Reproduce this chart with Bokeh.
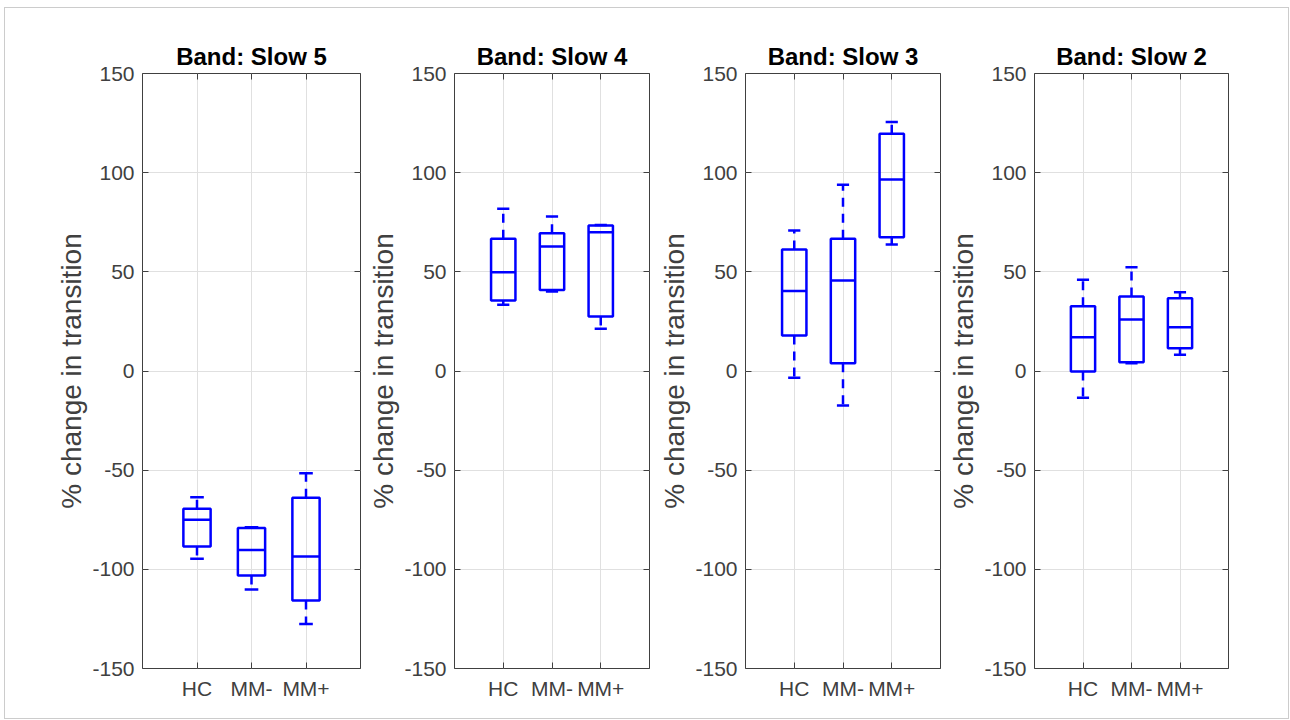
import numpy as np
from bokeh.plotting import figure
from bokeh.models import Range1d, FixedTicker, LinearAxis, ColumnDataSource
from bokeh.layouts import row
from bokeh.embed import file_html
from bokeh.resources import INLINE

# ---------------- data ----------------
groups = ["HC", "MM-", "MM+"]
group_pos = [1, 2, 3]
band_titles = ["Band: Slow 5", "Band: Slow 4", "Band: Slow 3", "Band: Slow 2"]
y_ticks = [-150, -100, -50, 0, 50, 100, 150]
y_tick_labels = ["-150", "-100", "-50", "0", "50", "100", "150"]
y_label = "% change in transition"

# lower whisker, first quartile, median, third quartile, upper whisker
slow5_low = [-94.7, -110.2, -127.5]
slow5_q1 = [-88.5, -103.1, -115.7]
slow5_med = [-75.0, -90.2, -93.5]
slow5_q3 = [-69.5, -79.1, -63.9]
slow5_high = [-63.6, -78.8, -51.5]

slow4_low = [33.4, 40.1, 21.3]
slow4_q1 = [35.6, 40.9, 27.5]
slow4_med = [49.8, 62.8, 70.0]
slow4_q3 = [66.7, 69.5, 73.4]
slow4_high = [81.8, 77.9, 73.6]

slow3_low = [-3.4, -17.4, 63.8]
slow3_q1 = [17.9, 3.9, 67.5]
slow3_med = [40.3, 45.6, 96.6]
slow3_q3 = [61.3, 66.7, 119.6]
slow3_high = [70.9, 93.9, 125.5]

slow2_low = [-13.5, 3.9, 8.2]
slow2_q1 = [-0.3, 4.4, 11.5]
slow2_med = [17.0, 26.0, 22.1]
slow2_q3 = [32.7, 37.6, 36.7]
slow2_high = [46.0, 52.3, 39.7]

panels = [
    (slow5_low, slow5_q1, slow5_med, slow5_q3, slow5_high),
    (slow4_low, slow4_q1, slow4_med, slow4_q3, slow4_high),
    (slow3_low, slow3_q1, slow3_med, slow3_q3, slow3_high),
    (slow2_low, slow2_q1, slow2_med, slow2_q3, slow2_high),
]

# ---------------- style ----------------
FONT = "Liberation Sans"
BLUE = "#0000FF"
DARK = "#404040"
GRID = "#e0e0e0"
frame_widths = [218, 195, 195, 194]
left_borders = [137, 92, 94, 92]
right_borders = [2, 2, 2, 60]
BOX_HALF = 0.25
CAP_HALF = 0.125
LW = 2.5

figs = []
for i, (title, data) in enumerate(zip(band_titles, panels)):
    low, q1, med, q3, high = data
    x = np.array(group_pos, dtype=float)
    src = ColumnDataSource(dict(
        x=x, left=x - BOX_HALF, right=x + BOX_HALF,
        cl=x - CAP_HALF, cr=x + CAP_HALF,
        low=low, q1=q1, med=med, q3=q3, high=high,
    ))
    p = figure(frame_width=frame_widths[i], frame_height=595,
               min_border_left=left_borders[i], min_border_right=right_borders[i],
               min_border_top=65, min_border_bottom=50,
               x_range=Range1d(0, 4), y_range=Range1d(-150, 150),
               output_backend="svg", toolbar_location=None, title=title)
    p.title.align = "center"
    p.title.text_font = FONT
    p.title.text_font_size = "24px"
    p.title.text_font_style = "bold"
    p.title.text_color = "#000000"
    p.title.standoff = 7

    p.outline_line_color = DARK
    p.outline_line_width = 1
    p.background_fill_color = "white"
    p.border_fill_color = "white"

    xt = FixedTicker(ticks=group_pos)
    yt = FixedTicker(ticks=y_ticks)
    p.xaxis.ticker = xt
    p.yaxis.ticker = yt
    p.xaxis.major_label_overrides = {pos: g for pos, g in zip(group_pos, groups)}
    p.yaxis.major_label_overrides = {t: s for t, s in zip(y_ticks, y_tick_labels)}
    p.yaxis.axis_label = y_label

    for ax in [p.xaxis[0], p.yaxis[0]]:
        ax.axis_line_color = None
        ax.major_tick_in = 6
        ax.major_tick_out = 0
        ax.minor_tick_in = 0
        ax.minor_tick_out = 0
        ax.major_tick_line_color = DARK
        ax.major_label_text_font = FONT
        ax.major_label_text_font_size = "21px"
        ax.major_label_text_color = DARK
        ax.major_label_standoff = 8
    p.yaxis.axis_label_text_font = FONT
    p.yaxis.axis_label_text_font_size = "28px"
    p.yaxis.axis_label_text_font_style = "normal"
    p.yaxis.axis_label_text_color = DARK
    p.yaxis.axis_label_standoff = 2

    for side, tk in [("right", yt), ("above", xt)]:
        ax = LinearAxis(ticker=tk)
        ax.axis_line_color = None
        ax.major_tick_in = 6
        ax.major_tick_out = 0
        ax.minor_tick_in = 0
        ax.minor_tick_out = 0
        ax.major_tick_line_color = DARK
        ax.major_label_text_font_size = "0px"
        ax.major_label_text_alpha = 0
        ax.major_label_standoff = 0
        p.add_layout(ax, side)

    p.xgrid.ticker = xt
    p.ygrid.ticker = yt
    p.grid.grid_line_color = GRID
    p.grid.grid_line_width = 1

    # whiskers (dashed)
    p.segment(x0="x", x1="x", y0="q3", y1="high", source=src,
              line_color=BLUE, line_width=LW, line_dash="9 7")
    p.segment(x0="x", x1="x", y0="q1", y1="low", source=src,
              line_color=BLUE, line_width=LW, line_dash="9 7")
    # caps
    p.segment(x0="cl", x1="cr", y0="high", y1="high", source=src,
              line_color=BLUE, line_width=LW)
    p.segment(x0="cl", x1="cr", y0="low", y1="low", source=src,
              line_color=BLUE, line_width=LW)
    # boxes
    p.quad(left="left", right="right", bottom="q1", top="q3", source=src,
           fill_color=None, line_color=BLUE, line_width=LW)
    # medians
    p.segment(x0="left", x1="right", y0="med", y1="med", source=src,
              line_color=BLUE, line_width=LW)
    figs.append(p)

layout = row(*figs, styles={"border": "1px solid #cccccc",
                            "margin-left": "4px", "margin-top": "7px"})
open("out.html", "w").write(file_html(layout, INLINE))
